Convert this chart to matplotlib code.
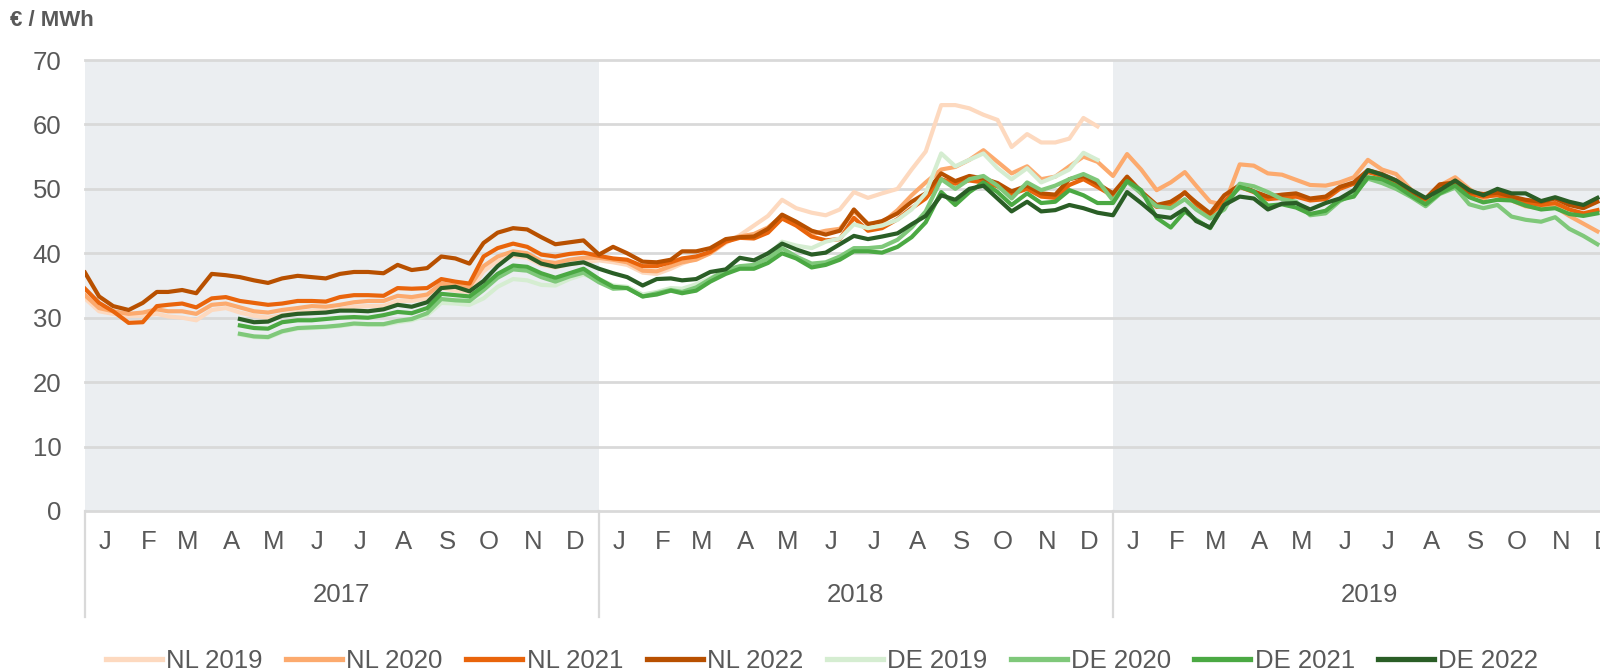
"""
Title : Forward prices NL and DE (cal 2019-2022), 2017-2019
"""

import datetime as dt

import matplotlib
matplotlib.use("Agg")
import matplotlib.pyplot as plt
import matplotlib.dates as mdates
import matplotlib.transforms as mtransforms
import numpy as np


YEARS = [2017, 2018, 2019]
MONTH_LETTERS = ["J", "F", "M", "A", "M", "J", "J", "A", "S", "O", "N", "D"]
Y_TICKS = [0, 10, 20, 30, 40, 50, 60, 70]
UNIT_LABEL = "€ / MWh"

# sample dates: 1st, 11th and 21st of each month, Jan 2017 .. 11 Dec 2019
dates = [dt.date(y, m, d) for y in YEARS for m in range(1, 13) for d in (1, 11, 21)][:-1]

N = None

nl_2019 = [
    33.0, 31.0, 30.6, 30.3, 30.3, 30.6, 30.2, 30.0, 29.6, 31.2, 31.5, 30.8,
    30.3, 30.0, 30.4, 30.8, 31.0, 31.0, 31.3, 31.7, 31.8, 31.8, 32.6, 32.6,
    33.0, 34.6, 34.2, 34.0, 37.2, 38.8, 39.6, 39.3, 38.2, 37.8, 38.3, 38.6,
    38.9, 38.6, 38.2, 37.0, 36.8, 37.6, 38.4, 39.2, 40.0, 41.6, 42.8, 44.3,
    45.8, 48.3, 47.0, 46.3, 45.9, 46.8, 49.5, 48.6, 49.3, 50.0, 53.0, 55.8,
    63.0, 63.0, 62.5, 61.5, 60.7, 56.5, 58.5, 57.2, 57.2, 57.8, 61.0, 59.7,
] + [N] * 35

nl_2020 = [
    33.5, 31.5, 31.0, 30.6, 30.8, 31.3, 31.0, 31.0, 30.6, 32.0, 32.2, 31.6,
    31.0, 30.8, 31.2, 31.5, 31.8, 31.7, 32.0, 32.4, 32.6, 32.6, 33.4, 33.2,
    33.6, 35.3, 35.0, 34.8, 38.0, 39.5, 40.3, 40.0, 38.8, 38.5, 39.0, 39.3,
    39.3, 39.0, 38.6, 37.3, 37.2, 38.0, 38.6, 39.0, 40.0, 41.8, 42.6, 43.0,
    44.0, 45.8, 44.5, 43.0, 43.5, 43.8, 46.5, 44.6, 44.7, 46.7, 49.0, 51.0,
    53.0, 53.4, 54.5, 56.0, 54.2, 52.4, 53.5, 51.5, 51.9, 53.5, 55.0, 54.2,
    52.0, 55.4, 53.0, 49.8, 51.0, 52.6, 50.5, 48.0, 47.5, 53.8, 53.6, 52.4,
    52.2, 51.4, 50.6, 50.5, 51.0, 51.8, 54.5, 53.0, 52.3, 49.8, 48.3, 50.5,
    51.8, 50.0, 48.4, 49.6, 48.2, 47.3, 47.0, 47.2, 45.8, 44.6, 43.4,
]

nl_2021 = [
    34.5, 32.3, 31.0, 29.2, 29.3, 31.8, 32.0, 32.2, 31.6, 33.0, 33.2, 32.6,
    32.3, 32.0, 32.2, 32.6, 32.6, 32.5, 33.2, 33.5, 33.5, 33.4, 34.6, 34.5,
    34.6, 36.0, 35.6, 35.3, 39.5, 40.8, 41.5, 41.0, 39.8, 39.5, 39.9, 40.1,
    39.6, 39.2, 39.0, 38.0, 38.0, 38.6, 39.2, 39.5, 40.2, 41.8, 42.4, 42.3,
    43.2, 45.4, 44.3, 42.6, 42.0, 42.2, 45.5, 43.5, 43.9, 45.3, 47.0, 48.5,
    51.5, 50.8, 51.3, 51.0, 50.4, 49.2, 50.0, 48.8, 48.6, 50.6, 51.5, 50.3,
    48.9, 51.6, 49.3, 47.2, 47.5, 49.5, 47.6, 46.0, 48.0, 50.3, 49.5, 48.4,
    48.6, 48.8, 48.2, 48.4, 50.0, 50.8, 52.6, 52.0, 51.0, 49.2, 48.3, 50.4,
    50.8, 49.2, 48.8, 49.0, 48.4, 47.9, 47.5, 47.8, 46.8, 46.2, 46.7,
]

nl_2022 = [
    37.0, 33.3, 31.8, 31.2, 32.3, 34.0, 34.0, 34.3, 33.8, 36.8, 36.6, 36.3,
    35.8, 35.4, 36.1, 36.5, 36.3, 36.1, 36.8, 37.1, 37.1, 36.9, 38.2, 37.4,
    37.7, 39.5, 39.2, 38.4, 41.6, 43.2, 43.9, 43.7, 42.5, 41.4, 41.7, 42.0,
    39.8, 41.0, 40.0, 38.7, 38.6, 39.0, 40.3, 40.3, 40.8, 42.2, 42.5, 42.6,
    43.8, 46.0, 44.9, 43.5, 42.9, 43.5, 46.8, 44.5, 45.0, 46.2, 48.0, 49.3,
    52.4, 51.2, 52.0, 51.6, 50.9, 49.6, 50.5, 49.3, 49.1, 51.5, 52.0, 50.8,
    49.3, 51.9, 49.6, 47.5, 48.0, 49.4, 47.9, 46.2, 49.0, 50.6, 49.6, 48.8,
    49.1, 49.3, 48.5, 48.8, 50.3, 51.0, 52.9, 52.3, 51.3, 49.5, 48.5, 50.7,
    51.0, 49.5, 49.2, 49.4, 48.8, 48.3, 48.0, 48.5, 47.5, 47.0, 48.0,
]

de_2019 = [N] * 11 + [
    27.4, 27.0, 26.9, 27.8, 28.3, 28.4, 28.5, 28.7, 29.0, 28.9, 28.9, 29.3,
    29.6, 30.4, 32.3, 32.2, 32.0, 33.0, 34.8, 36.0, 35.8, 35.1, 35.0, 36.0,
    36.7,
    36.0, 35.0, 34.8, 33.6, 34.0, 34.6, 34.5, 35.2, 36.2, 37.2, 37.8, 38.0,
    39.6, 41.8, 41.2, 40.8, 41.8, 42.3, 44.5, 43.9, 44.3, 45.2, 46.8, 49.3,
    55.5, 53.5, 54.5, 55.5, 53.2, 51.5, 53.2, 51.0, 51.9, 53.0, 55.6, 54.5,
] + [N] * 35

de_2020 = [N] * 11 + [
    27.5, 27.1, 27.0, 27.9, 28.4, 28.5, 28.6, 28.8, 29.1, 29.0, 29.0, 29.5,
    29.8, 30.7, 32.9, 32.7, 32.6, 34.3, 36.2, 37.5, 37.3, 36.3, 35.6, 36.4,
    37.0,
    35.5, 34.5, 34.6, 33.3, 33.8, 34.3, 34.0, 34.7, 36.0, 37.4, 38.0, 38.2,
    39.2, 40.8, 39.5, 38.4, 38.6, 39.5, 40.8, 40.8, 41.0, 42.1, 44.0, 46.5,
    51.5, 50.0, 51.5, 52.0, 50.5, 48.5, 51.0, 49.8, 50.5, 51.5, 52.3, 51.3,
    48.2, 51.1, 49.3, 47.3, 47.0, 48.4, 46.8, 45.4, 46.8, 50.8, 50.4, 49.5,
    48.4, 48.0, 45.9, 46.2, 48.1, 49.2, 51.6, 50.9, 50.0, 48.7, 47.3, 49.2,
    50.2, 47.6, 47.0, 47.5, 45.7, 45.2, 44.9, 45.6, 43.8, 42.7, 41.4,
]

de_2021 = [N] * 11 + [
    28.8, 28.4, 28.3, 29.3, 29.6, 29.6, 29.8, 30.0, 30.1, 30.0, 30.4, 30.9,
    30.7, 31.5, 33.7, 33.5, 33.3, 34.9, 36.8, 38.1, 37.9, 36.9, 36.2, 36.9,
    37.6,
    36.0, 34.8, 34.6, 33.3, 33.6, 34.2, 33.8, 34.2, 35.6, 36.8, 37.6, 37.6,
    38.5, 40.0, 39.2, 37.8, 38.2, 39.0, 40.3, 40.3, 40.1, 41.0, 42.5, 44.8,
    49.5, 47.5, 49.5, 51.0, 49.5, 47.5, 49.3, 47.8, 48.0, 49.8, 49.0, 47.8,
    47.8, 51.2, 49.8, 45.5, 44.0, 46.5, 45.2, 43.9, 47.5, 50.3, 49.6, 47.4,
    47.6, 47.1, 46.1, 46.6, 48.3, 48.8, 51.8, 51.5, 50.5, 48.9, 47.6, 49.3,
    50.5, 48.7, 47.9, 48.3, 48.2, 47.4, 46.8, 47.0, 46.1, 45.8, 46.2,
]

de_2022 = [N] * 11 + [
    29.8, 29.3, 29.4, 30.3, 30.6, 30.7, 30.8, 31.1, 31.1, 31.0, 31.3, 32.0,
    31.7, 32.4, 34.6, 34.8, 34.1, 35.7, 38.0, 39.9, 39.6, 38.4, 37.9, 38.3,
    38.6,
    37.6, 36.9, 36.3, 35.0, 36.0, 36.1, 35.8, 36.0, 37.1, 37.5, 39.3, 38.9,
    40.0, 41.5, 40.6, 39.8, 40.1, 41.4, 42.7, 42.2, 42.6, 43.1, 44.5, 45.8,
    49.0, 48.3, 50.0, 50.5, 48.5, 46.5, 48.0, 46.5, 46.7, 47.5, 47.0, 46.3,
    45.9, 49.5, 47.8, 45.8, 45.5, 46.9, 45.0, 44.0, 47.5, 48.8, 48.5, 46.8,
    47.7, 47.8, 46.8, 47.8, 48.5, 49.8, 52.9, 52.2, 51.3, 49.8, 48.6, 49.8,
    51.3, 49.8, 49.0, 50.0, 49.3, 49.3, 48.1, 48.7, 48.0, 47.5, 48.6,
]

series_names = ["NL 2019", "NL 2020", "NL 2021", "NL 2022",
                "DE 2019", "DE 2020", "DE 2021", "DE 2022"]
series_values = [nl_2019, nl_2020, nl_2021, nl_2022,
                 de_2019, de_2020, de_2021, de_2022]
series_colors = ["#FDD9BF", "#FCAA6E", "#E9640B", "#B85000",
                 "#D5EDD1", "#7FC87A", "#4BA943", "#2A5E26"]

TEXT_COLOR = "#595959"
GRID_COLOR = "#D9D9D9"
SHADE_COLOR = "#EBEEF1"
FONT_SIZE = 18.5


def draw_chart():

    """
    description:
        Draws the price lines with month / year category labels below
        and saves the picture as out.png.
    """

    plt.rcParams["font.family"] = ["Liberation Sans", "DejaVu Sans"]

    fig = plt.figure(figsize=(16, 6.72), dpi=100)
    # axes runs a bit past the right edge, like the cropped original
    ax = fig.add_axes([85 / 1600, 1 - 511 / 672, 1542 / 1600, 451 / 672])

    x = mdates.date2num(dates)
    start = mdates.date2num(dt.date(2017, 1, 1))
    end = mdates.date2num(dt.date(2020, 1, 1))
    ax.set_xlim(start, end)
    ax.set_ylim(0, 70)

    # grey background for 2017 and 2019
    for year in (2017, 2019):
        ax.axvspan(mdates.date2num(dt.date(year, 1, 1)),
                   mdates.date2num(dt.date(year + 1, 1, 1)),
                   color=SHADE_COLOR, lw=0, zorder=0)

    for v in Y_TICKS:
        ax.axhline(v, color=GRID_COLOR, lw=2, zorder=0.5, clip_on=False)

    lines = []
    for name, vals, color in zip(series_names, series_values, series_colors):
        y = np.array(vals, dtype=float)
        line, = ax.plot(x, y, color=color, lw=3.0, label=name,
                        solid_joinstyle="round", zorder=2)
        lines.append(line)

    for side in ["top", "right", "left", "bottom"]:
        ax.spines[side].set_visible(False)

    ax.set_yticks(Y_TICKS)
    ax.set_xticks([])
    ax.tick_params(axis="y", length=0, pad=17, labelsize=FONT_SIZE,
                   labelcolor=TEXT_COLOR)

    # two-level category labels: months, then years
    trans = mtransforms.blended_transform_factory(ax.transData, ax.transAxes)
    for year in YEARS:
        for m, letter in enumerate(MONTH_LETTERS, start=1):
            ax.text(mdates.date2num(dt.date(year, m, 15)), -0.084, letter,
                    transform=trans, ha="center", va="baseline",
                    fontsize=FONT_SIZE, color=TEXT_COLOR, clip_on=False)
        mid = mdates.date2num(dt.date(year, 7, 2))
        ax.text(mid, -0.202, str(year), transform=trans, ha="center",
                va="baseline", fontsize=FONT_SIZE, color=TEXT_COLOR)
        ax.axvline(mdates.date2num(dt.date(year, 1, 1)), ymin=-0.235, ymax=0,
                   color=GRID_COLOR, lw=1.6, clip_on=False)

    fig.text(10 / 1600, 1 - 26 / 672, UNIT_LABEL, fontsize=16,
             fontweight="bold", color=TEXT_COLOR, va="baseline")

    leg = fig.legend(lines, series_names, loc="center left",
                     bbox_to_anchor=(106 / 1600, 1 - 661 / 672), ncol=8,
                     frameon=False, fontsize=FONT_SIZE, handlelength=2.18,
                     handletextpad=0.16, columnspacing=0.92, borderpad=0,
                     borderaxespad=0, labelcolor=TEXT_COLOR)
    for h in leg.get_lines():
        h.set_linewidth(3.8)

    fig.savefig("out.png", dpi=100)


def main():

    draw_chart()


if __name__ == "__main__":
    main()
